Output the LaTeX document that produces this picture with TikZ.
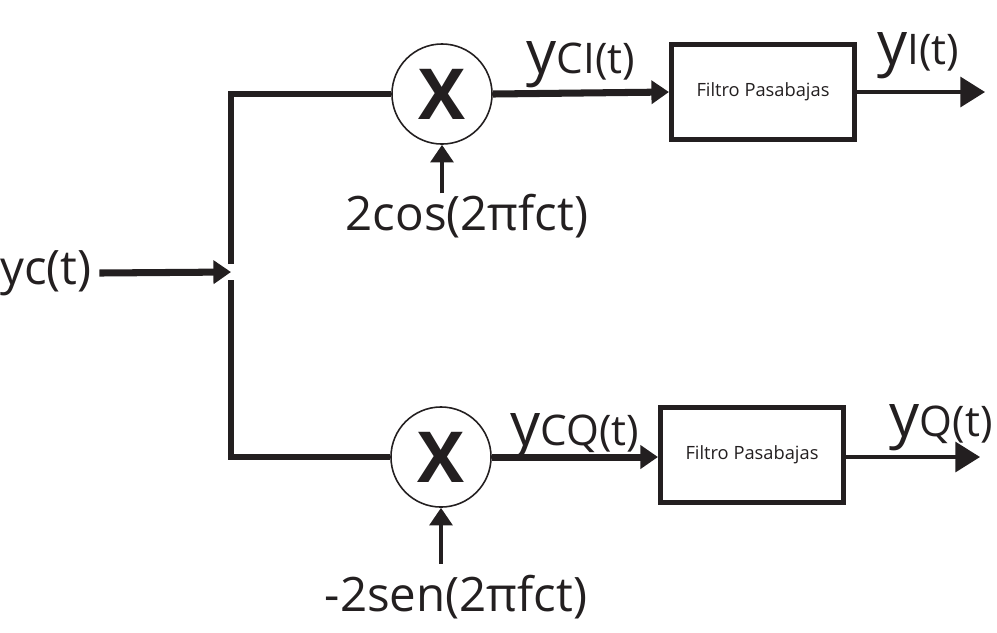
\documentclass[tikz,border=0pt]{standalone}
\usepackage{fontspec}
\setmainfont{Open Sans}
\usetikzlibrary{positioning, arrows.meta}
\definecolor{ink}{HTML}{231F20}

\begin{document}
\begin{tikzpicture}[
  x=0.01cm, y=-0.01cm,
  font=\fontsize{13.5}{15}\selectfont,
  every node/.style={text=ink},
  mixer/.style={circle, draw=ink, line width=0.45pt, minimum size=1cm,
                inner sep=0pt, font=\bfseries\fontsize{20}{20}\selectfont},
  lpf/.style={rectangle, draw=ink, line width=1.4pt, minimum width=1.83cm,
              minimum height=0.95cm, font=\fontsize{5.2}{6}\selectfont},
  wire/.style={line width=1.5pt, color=ink},
  thickarr/.style={-{Triangle[length=5pt,width=6.5pt]}, line width=2pt, color=ink},
  outarr/.style={-{Triangle[length=7pt,width=8.5pt]}, line width=1pt, color=ink},
  oscarr/.style={-{Triangle[length=5pt,width=6.5pt]}, line width=1pt, color=ink},
  sig/.style={font=\fontsize{12}{14}\selectfont}
]
\useasboundingbox (0,0) rectangle (997,632);
% input and split
\node[inner sep=2pt] (ycIn) at (46,273) {yc(t)};
\coordinate (split) at (231,272);
\coordinate (splitTop) at (231,264);
\coordinate (splitBot) at (231,280);
% mixers
\node[mixer] (mixI) at (442,94) {X};
\node[mixer] (mixQ) at (441,457) {X};
% low-pass filters
\node[lpf] (lpfI) at (763,92) {Filtro Pasabajas};
\node[lpf] (lpfQ) at (752,455) {Filtro Pasabajas};
% outputs
\coordinate (outI) at (985,92);
\coordinate (outQ) at (980,457);
% oscillator labels
\node[inner sep=0pt] (cosI) at (467,216) {2cos(2πfct)};
\node[inner sep=3pt] (senQ) at (456,597) {-2sen(2πfct)};
% input -> split
\draw[thickarr] (ycIn.east) -- (split);
% split -> mixers
\draw[wire] (splitTop) |- (mixI.west);
\draw[wire] (splitBot) |- (mixQ.west);
% mixers -> filters
\draw[thickarr] (mixI.east) -- (lpfI.west)
  node[midway, above=-3pt, sig] {{\fontsize{17}{17}\selectfont y}CI(t)};
\draw[thickarr] (mixQ.east) -- (lpfQ.west |- mixQ.east)
  node[midway, above=-5pt, sig] {{\fontsize{17}{17}\selectfont y}CQ(t)};
% filters -> outputs
\draw[outarr] (lpfI.east) -- (outI)
  node[pos=0.48, above=0pt, sig] {{\fontsize{17}{17}\selectfont y}I(t)};
\draw[outarr] (lpfQ.east |- outQ) -- (outQ)
  node[pos=0.71, above=-2pt, sig] {{\fontsize{17}{17}\selectfont y}Q(t)};
% oscillators -> mixers
\draw[oscarr] (mixI.south |- cosI.north) -- (mixI.south);
\draw[oscarr] (mixQ.south |- senQ.north) -- (mixQ.south);
\end{tikzpicture}
\end{document}
